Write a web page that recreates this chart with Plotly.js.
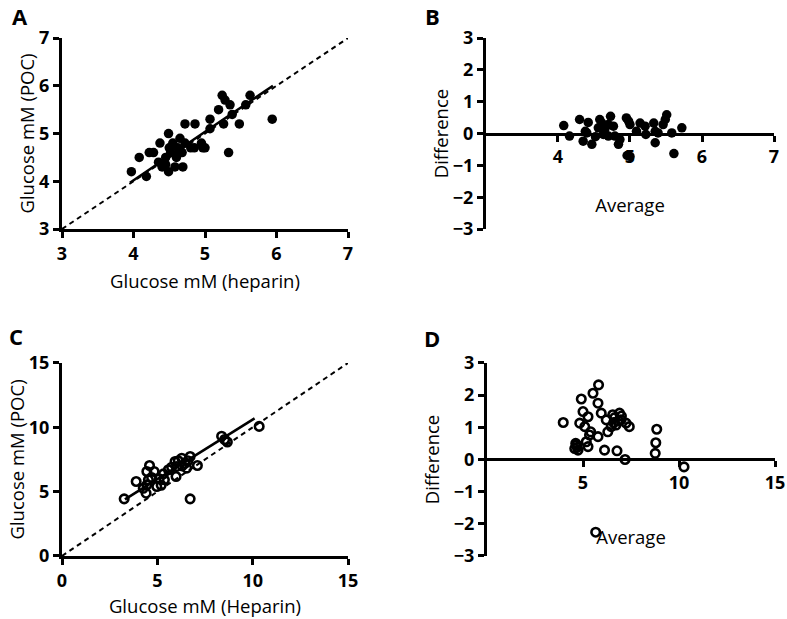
<!DOCTYPE html>
<html><head><meta charset="utf-8">
<script src="https://cdn.plot.ly/plotly-3.0.1.min.js"></script>
<style>html,body{margin:0;padding:0;background:#fff;} #chart{width:787px;height:619px;}</style>
</head><body><div id="chart"></div>
<script>
// Panel A: glucose POC vs heparin
const aHeparin = [3.97,4.08,4.18,4.22,4.28,4.35,4.37,4.40,4.45,4.49,4.49,4.50,4.52,4.55,4.58,4.60,4.62,4.65,4.68,4.69,4.72,4.80,4.85,4.86,4.95,4.97,5.00,5.07,5.07,5.19,5.24,5.26,5.28,5.33,5.35,5.38,5.48,5.57,5.63,5.94,4.45,4.55,4.72];
const aPOC     = [4.2,4.5,4.1,4.6,4.6,4.4,4.8,4.3,4.5,5.0,4.2,4.7,4.6,4.8,4.3,4.5,4.7,4.9,4.6,4.3,5.2,4.7,4.7,5.2,4.8,4.7,4.7,5.3,5.1,5.5,5.8,5.2,5.7,4.6,5.6,5.4,5.2,5.6,5.8,5.3,4.35,4.75,4.8];
const aFitX = [3.95, 5.95];
const aFitY = [3.97, 6.0];
const aIdentity = [3, 7];

// Panel B: Bland-Altman
const bAverage    = [4.08,4.16,4.30,4.42,4.38,4.35,4.47,4.40,4.58,4.61,4.73,4.70,4.77,4.65,4.56,4.63,4.70,4.79,4.86,4.84,4.95,4.98,5.00,5.09,5.14,5.22,5.21,5.33,5.35,5.35,5.39,5.46,5.49,5.51,5.58,5.72,4.96,5.61,4.52,5.00];
const bDifference = [0.25,-0.08,0.44,0.35,0.07,-0.24,-0.34,0.02,0.44,0.33,0.54,0.28,0.23,0.13,0.18,-0.03,-0.08,-0.08,-0.19,-0.34,0.49,0.39,0.28,0.07,0.33,-0.03,0.23,0.33,0.07,-0.29,0.02,0.28,0.44,0.59,0.02,0.18,-0.69,-0.63,-0.1,-0.72];

// Panel C
const cHeparin = [3.26,3.89,4.41,4.45,4.45,4.53,4.59,4.83,4.97,5.10,5.32,5.37,5.58,5.75,5.93,6.02,5.98,6.10,6.28,6.45,6.54,6.72,6.60,7.10,6.72,8.37,8.53,8.67,10.34,4.26,4.70,5.20,6.30];
const cPOC     = [4.44,5.79,4.88,5.53,6.57,5.92,7.03,6.57,5.40,6.00,6.38,5.92,6.70,6.90,7.34,6.96,6.18,7.40,7.60,7.20,6.83,7.73,7.40,7.03,4.44,9.31,9.05,8.86,10.07,5.26,6.10,5.50,7.00];
const cFitX = [3.3, 10.1];
const cFitY = [4.4, 10.7];
const cIdentity = [0, 15];

// Panel D
const dAverage    = [3.97,4.91,5.52,5.81,5.78,5.00,4.83,5.26,5.40,5.09,5.95,6.21,6.55,6.90,6.98,6.72,7.24,7.41,6.47,6.29,4.66,4.57,4.74,5.17,5.34,5.26,5.78,6.12,6.77,7.19,8.84,8.79,8.76,10.26,5.66,4.62,6.65,6.85,7.00,6.60,4.70];
const dDifference = [1.15,1.88,2.06,2.32,1.75,1.49,1.13,1.33,0.86,1.02,1.44,1.23,1.39,1.44,1.23,1.07,1.13,1.02,1.02,0.86,0.45,0.34,0.29,0.55,0.76,0.40,0.71,0.29,0.27,0.0,0.94,0.52,0.19,-0.23,-2.26,0.50,1.30,1.20,1.35,1.15,0.38];

const ticksA = [3,4,5,6,7];
const ticksBx = [4,5,6,7];
const ticksDiff = [-3,-2,-1,0,1,2,3];
const ticksC = [0,5,10,15];
const ticksDx = [5,10,15];

const FONT = 'Open Sans, sans-serif';
const filled = {color:'#000', size:9.5, symbol:'circle'};
const openM = {color:'#000', size:8.5, symbol:'circle-open', line:{color:'#000', width:2.6}};
const dashLine = {color:'#000', width:2, dash:'5px,4px'};
const fitLine = {color:'#000', width:2.6};

const traces = [
  {x:aIdentity, y:aIdentity, mode:'lines', line:dashLine, xaxis:'x', yaxis:'y'},
  {x:aHeparin, y:aPOC, mode:'markers', marker:filled, xaxis:'x', yaxis:'y'},
  {x:aFitX, y:aFitY, mode:'lines', line:fitLine, xaxis:'x', yaxis:'y'},
  {x:bAverage, y:bDifference, mode:'markers', marker:filled, xaxis:'x2', yaxis:'y2'},
  {x:cIdentity, y:cIdentity, mode:'lines', line:dashLine, xaxis:'x3', yaxis:'y3'},
  {x:cHeparin, y:cPOC, mode:'markers', marker:openM, xaxis:'x3', yaxis:'y3'},
  {x:cFitX, y:cFitY, mode:'lines', line:fitLine, xaxis:'x3', yaxis:'y3'},
  {x:dAverage, y:dDifference, mode:'markers', marker:openM, xaxis:'x4', yaxis:'y4', cliponaxis:false}
];

function ax(extra){
  return Object.assign({
    showline:true, linewidth:3, linecolor:'#000', mirror:false,
    ticks:'outside', ticklen:6, tickwidth:3, tickcolor:'#000',
    showgrid:false, zeroline:false, automargin:false, fixedrange:true,
    tickfont:{family:FONT, size:18, color:'#000', weight:'bold'}
  }, extra);
}
function ttl(text, standoff){
  return {text:text, standoff:standoff, font:{family:FONT, size:18.5, color:'#000'}};
}

const yA = [0.630, 0.9386], yC = [0.1018, 0.4136];
const xL = [0.0788, 0.4422], xR = [0.6175, 0.9835];

const layout = {
  width:787, height:619, margin:{l:0,r:0,t:0,b:0},
  paper_bgcolor:'#fff', plot_bgcolor:'#fff', showlegend:false,
  font:{family:FONT, color:'#000'},
  xaxis: ax({domain:xL, range:[3,7], tickvals:ticksA, anchor:'y', title:ttl('Glucose mM (heparin)', 12)}),
  yaxis: ax({domain:yA, range:[3,7], tickvals:ticksA, anchor:'x', title:ttl('Glucose mM (POC)', 0)}),
  xaxis2: ax({domain:xR, range:[3,7], tickvals:ticksBx, anchor:'free', position:(yA[0]+yA[1])/2, title:ttl('Average', 31)}),
  yaxis2: ax({domain:yA, range:[-3,3], tickvals:ticksDiff, anchor:'x2', title:ttl('Difference', 0)}),
  xaxis3: ax({domain:xL, range:[0,15], tickvals:ticksC, anchor:'y3', title:ttl('Glucose mM (Heparin)', 10)}),
  yaxis3: ax({domain:yC, range:[0,15], tickvals:ticksC, anchor:'x3', title:ttl('Glucose mM (POC)', 0)}),
  xaxis4: ax({domain:[0.6188,0.9848], range:[0,15], tickvals:ticksDx, anchor:'free', position:(yC[0]+yC[1])/2, title:ttl('Average', 37)}),
  yaxis4: ax({domain:yC, range:[-3,3], tickvals:ticksDiff, anchor:'x4', title:ttl('Difference', 10)}),
  annotations: [
    ['A', 20, 16], ['B', 432, 16], ['C', 16, 336], ['D', 432, 338]
  ].map(a => ({text:a[0], x:a[1]/787, y:1 - a[2]/619, xref:'paper', yref:'paper', showarrow:false,
               xanchor:'center', yanchor:'middle', font:{family:FONT, size:22, color:'#000', weight:'bold'}}))
};

Plotly.newPlot('chart', traces, layout, {staticPlot:true, displayModeBar:false});
</script>
</body></html>
